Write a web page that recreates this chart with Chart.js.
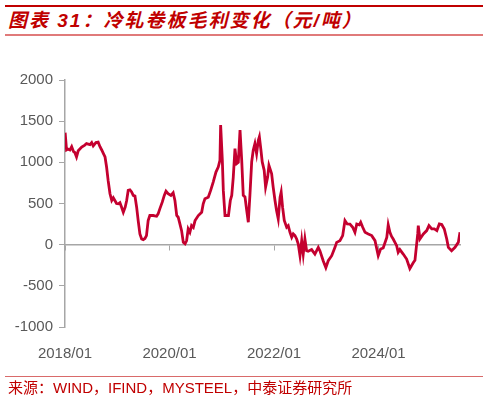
<!DOCTYPE html>
<html>
<head>
<meta charset="utf-8">
<script src="https://cdn.jsdelivr.net/npm/chart.js@4.4.1/dist/chart.umd.min.js"></script>
<style>
  html, body { margin: 0; padding: 0; background: #fff; }
  #wrap { position: relative; width: 496px; height: 400px; overflow: hidden; }
  #chart { position: absolute; left: 0; top: 0; }
  .rule { position: absolute; left: 5px; width: 478px; }
  #ruleTop { top: 5px; height: 2px; background: #c00000; }
  #ruleTitle { top: 34px; height: 2px; background: #e07a7a; }
  #ruleSrc { top: 376px; height: 1px; background: #d96a6a; }
  #title {
    position: absolute; left: 8px; top: 10px;
    font: italic bold 19px "Liberation Sans", "Noto Sans CJK SC", sans-serif;
    letter-spacing: 2px;
    color: #c00000; line-height: 22px; white-space: nowrap;
  }
  #src {
    position: absolute; left: 8px; top: 379px;
    font: 15px "Liberation Sans", "Noto Sans CJK SC", sans-serif;
    color: #c00000; line-height: 18px; white-space: nowrap;
  }
</style>
</head>
<body>
<div id="wrap">
  <div class="rule" id="ruleTop"></div>
  <div id="title">图表 31：冷轧卷板毛利变化（元/吨）</div>
  <div class="rule" id="ruleTitle"></div>
  <canvas id="chart" width="496" height="400"></canvas>
  <div class="rule" id="ruleSrc"></div>
  <div id="src">来源：WIND，IFIND，MYSTEEL，中泰证券研究所</div>
</div>
<script>
// 冷轧卷板毛利（元/吨），按图上读数估计
const dates = [
  '2018-01-02','2018-01-12','2018-01-22','2018-02-05','2018-02-16','2018-02-28','2018-03-09','2018-03-21','2018-04-02','2018-04-26',
  '2018-05-18','2018-05-30','2018-06-23','2018-07-05','2018-07-16','2018-08-04','2018-08-20','2018-09-02','2018-09-14','2018-09-25',
  '2018-10-07','2018-10-18','2018-10-29','2018-11-11','2018-11-23','2018-12-04','2018-12-15','2018-12-27',
  '2019-01-08','2019-01-20','2019-02-01','2019-02-12','2019-02-24','2019-03-06','2019-03-17','2019-03-29','2019-04-10','2019-04-21',
  '2019-05-03','2019-05-15','2019-05-26','2019-06-07','2019-06-19','2019-06-30','2019-07-12','2019-07-23','2019-08-04','2019-08-16',
  '2019-09-09','2019-10-02','2019-10-13','2019-10-25','2019-11-11','2019-11-25','2019-12-07','2019-12-22',
  '2020-01-11','2020-01-27','2020-02-08','2020-02-20','2020-03-01','2020-03-13','2020-03-25','2020-04-06','2020-04-18','2020-04-29',
  '2020-05-10','2020-05-22','2020-06-03','2020-06-15','2020-06-27','2020-07-20','2020-08-13','2020-08-24','2020-09-05','2020-09-28',
  '2020-10-15','2020-11-02','2020-11-21','2020-12-07','2020-12-19','2020-12-24',
  '2021-01-05','2021-01-12','2021-01-24','2021-02-16','2021-02-28','2021-03-10','2021-03-21','2021-04-02','2021-04-14','2021-04-25',
  '2021-05-07','2021-05-19','2021-05-30','2021-06-11','2021-06-23','2021-07-04','2021-07-16','2021-07-28','2021-08-08','2021-08-20',
  '2021-09-01','2021-09-13','2021-09-20','2021-10-01','2021-10-10','2021-10-24','2021-11-03','2021-11-17','2021-11-26','2021-12-15','2021-12-26',
  '2022-01-08','2022-01-19','2022-01-31','2022-02-12','2022-02-19','2022-02-28','2022-03-12','2022-03-29','2022-04-09','2022-04-21',
  '2022-05-03','2022-05-14','2022-05-26','2022-06-07','2022-06-18','2022-06-30','2022-07-12','2022-07-23','2022-08-04','2022-08-16',
  '2022-08-27','2022-09-20','2022-10-13','2022-11-06','2022-11-17','2022-12-10','2022-12-29',
  '2023-01-15','2023-02-08','2023-03-01','2023-03-13','2023-04-05','2023-04-24','2023-05-10','2023-05-26','2023-06-14','2023-07-03',
  '2023-07-19','2023-08-01','2023-08-19','2023-08-29','2023-09-12','2023-09-28','2023-10-21','2023-11-14','2023-12-07','2023-12-30',
  '2024-01-16','2024-02-03','2024-02-27','2024-03-08','2024-03-20','2024-04-01','2024-04-12','2024-05-06','2024-05-17','2024-05-29',
  '2024-06-21','2024-07-15','2024-08-07','2024-09-01','2024-09-12','2024-10-01','2024-10-05','2024-10-17','2024-11-10','2024-12-03','2024-12-19',
  '2025-01-08','2025-01-26','2025-02-12','2025-02-28','2025-03-17','2025-04-04','2025-04-21','2025-05-02','2025-05-25','2025-06-18',
  '2025-07-11','2025-07-23'
];

const margin = [
  1360,1150,1160,1150,1190,1130,1120,1065,1140,1185,
  1210,1228,1215,1240,1200,1240,1245,1190,1150,1110,
  1065,943,780,618,537,570,537,500,
  496,510,455,394,455,537,659,665,640,598,
  590,455,293,130,69,60,75,110,293,354,
  354,345,374,435,516,598,650,620,
  598,630,537,354,333,252,170,28,10,50,
  191,150,232,210,293,354,394,496,557,577,
  659,760,882,943,1025,1452,
  1025,659,354,354,537,598,821,1167,984,1000,
  1391,1025,598,580,415,272,618,1005,1147,1228,
  1106,1269,1310,1147,1005,903,699,821,964,862,699,
  537,415,313,577,638,455,293,211,230,150,
  89,130,110,69,8,-134,49,-114,69,-73,
  -80,-60,-114,-33,-73,-195,-280,
  -195,-134,-33,28,49,110,293,252,250,211,
  150,250,240,272,211,150,130,110,49,-134,
  -53,-40,89,240,150,100,69,-12,-93,-60,
  -114,-175,-290,-216,-190,130,232,69,130,171,232,
  191,191,171,252,245,191,69,-33,-73,-33,
  28,150
];

const xTickYears = ['2018/01', '2020/01', '2022/01', '2024/01'];
const yTicks = [-1000, -500, 0, 500, 1000, 1500, 2000];

// 日期 -> 距 2018/01 的月数
function monthsFrom2018(d) {
  const [y, m, day] = d.split('-').map(Number);
  const dim = new Date(y, m, 0).getDate();
  return (y - 2018) * 12 + (m - 1) + (day - 1) / dim;
}

const points = dates.map((d, i) => ({ x: monthsFrom2018(d), y: margin[i] }));
const xMax = points[points.length - 1].x;

const axisGray = '#a6a6a6';
const textGray = '#595959';
const tickFont = { family: '"Liberation Sans", Arial, sans-serif', size: 15 };

new Chart(document.getElementById('chart'), {
  type: 'line',
  data: {
    datasets: [{
      label: '冷轧卷板毛利',
      data: points,
      borderColor: '#c4002f',
      borderWidth: 2.8,
      pointRadius: 0,
      tension: 0,
      fill: false
    }]
  },
  options: {
    responsive: false,
    devicePixelRatio: 1,
    animation: false,
    layout: { padding: { left: 0, right: 36, top: 80, bottom: 27 } },
    plugins: { legend: { display: false }, tooltip: { enabled: false } },
    scales: {
      x: {
        type: 'linear',
        min: 0,
        max: xMax,
        grid: { display: false },
        border: { display: false },
        ticks: {
          stepSize: 24,
          includeBounds: false,
          autoSkip: false,
          maxRotation: 0,
          padding: 10,
          color: textGray,
          font: tickFont,
          callback: (v) => xTickYears[Math.round(v / 24)] || ''
        }
      },
      // 零轴线和刻度
      x0: {
        type: 'linear',
        position: { y: 0 },
        min: 0,
        max: xMax,
        grid: { drawOnChartArea: false, drawTicks: true, tickLength: 5, color: axisGray },
        border: { display: true, color: axisGray, width: 1.5 },
        ticks: { display: false, stepSize: 24, includeBounds: false }
      },
      y: {
        min: -1000,
        max: 2000,
        afterFit: (s) => { s.width = 65; },
        afterBuildTicks: (s) => { s.ticks = yTicks.map(v => ({ value: v })); },
        grid: { drawOnChartArea: false, drawTicks: true, tickLength: 6, color: axisGray },
        border: { display: true, color: axisGray, width: 1.5 },
        ticks: { padding: 6, color: textGray, font: tickFont, callback: (v) => String(v) }
      }
    }
  }
});
</script>
</body>
</html>
